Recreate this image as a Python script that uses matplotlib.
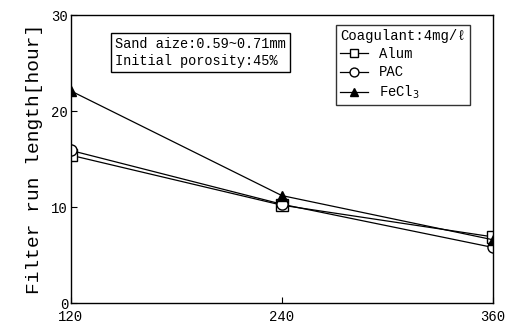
import matplotlib.pyplot as plt
import numpy as np

x = np.array([120, 240, 360])
alum = np.array([15.4, 10.2, 6.9])
pac = np.array([15.9, 10.3, 5.8])
fecl3 = np.array([22.1, 11.2, 6.6])

plt.rcParams['font.family'] = ['Liberation Mono', 'DejaVu Sans']

fig = plt.figure(figsize=(5.06, 3.27), dpi=100)
ax = fig.add_axes([0.140, 0.073, 0.834, 0.881])

ax.plot(x, alum, 'k-', marker='s', markerfacecolor='white', markersize=8, lw=0.9, label='Alum')
ax.plot(x, pac, 'k-', marker='o', markerfacecolor='white', markersize=8, lw=0.9, label='PAC')
ax.plot(x, fecl3, 'k-', marker='^', markerfacecolor='black', markersize=7, lw=0.9, label='FeCl$_3$')

ax.set_xlim(120, 360)
ax.set_ylim(0, 30)
ax.set_xticks([120, 240, 360])
ax.set_yticks([0, 10, 20, 30])
ax.tick_params(direction='in', labelsize=10, length=4, pad=2)
ax.tick_params(axis='x', pad=5)
ax.set_ylabel('Filter run length[hour]', fontsize=14, labelpad=6)
for s in ax.spines.values():
    s.set_linewidth(1.0)

leg = ax.legend(title='Coagulant:4mg/ℓ', loc='upper right', bbox_to_anchor=(0.962, 0.99),
                fontsize=10, title_fontsize=10, frameon=True, fancybox=False,
                edgecolor='black', handlelength=2.0, borderpad=0.3, labelspacing=0.3,
                markerscale=0.8)
leg._legend_box.align = 'left'
leg.get_frame().set_linewidth(1.0)

ax.text(0.105, 0.925, 'Sand aize:0.59~0.71mm\nInitial porosity:45%', transform=ax.transAxes,
        fontsize=9.8, va='top', ha='left', linespacing=1.3,
        bbox=dict(boxstyle='square,pad=0.3', facecolor='white', edgecolor='black', lw=1.0))

fig.savefig('out.png', dpi=100)
